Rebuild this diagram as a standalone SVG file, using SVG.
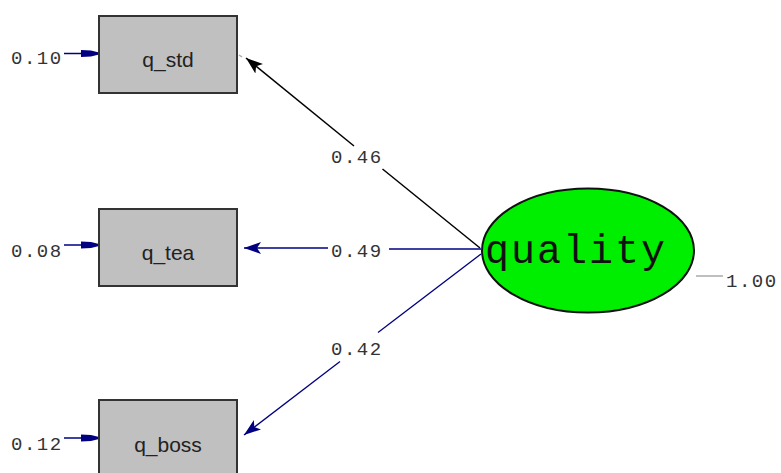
<svg xmlns="http://www.w3.org/2000/svg" width="781" height="473" viewBox="0 0 781 473">
<style>
.box{fill:#c0c0c0;stroke:#333;stroke-width:2}
.bt{font-family:"Liberation Sans",Arial,sans-serif;font-size:21px;fill:#222;text-anchor:middle}
.num{font-family:"Liberation Mono","Courier New",monospace;font-size:19px;fill:#333;letter-spacing:1.5px}
.nv{stroke:#000080;stroke-width:1.3;fill:none}
.bk{stroke:#000;stroke-width:1.5;fill:none}
</style>
<defs>
<marker id="ahB" markerUnits="userSpaceOnUse" markerWidth="20" markerHeight="14" refX="17" refY="7" orient="auto">
<path d="M0,1 L17,7 L0,13 L4,7 Z" fill="#000"/>
</marker>
<marker id="ahN" markerUnits="userSpaceOnUse" markerWidth="20" markerHeight="14" refX="17" refY="7" orient="auto">
<path d="M0,1 L17,7 L0,13 L4,7 Z" fill="#000080"/>
</marker>
<marker id="blk" markerUnits="userSpaceOnUse" markerWidth="20" markerHeight="10" refX="18" refY="5" orient="auto">
<path d="M0,1.5 L10,2 L18,4 L18,6 L10,8 L0,8.5 Z" fill="#000080"/>
</marker>
</defs>
<g id="connectors">
<line x1="64" y1="53.5" x2="99" y2="53.5" class="nv" marker-end="url(#blk)"/>
<line x1="64" y1="245" x2="99" y2="245" class="nv" marker-end="url(#blk)"/>
<line x1="64" y1="438" x2="99" y2="438" class="nv" marker-end="url(#blk)"/>
<line x1="239" y1="55" x2="242" y2="57" stroke="#aaa" stroke-width="1.5"/>
<line x1="354" y1="146" x2="246" y2="58" class="bk" marker-end="url(#ahB)"/>
<line x1="480" y1="248" x2="382.5" y2="169" class="bk"/>
<line x1="328" y1="248" x2="244" y2="248" class="nv" marker-end="url(#ahN)"/>
<line x1="481" y1="249" x2="389" y2="249" class="nv" stroke-width="1.6"/>
<line x1="481" y1="254" x2="378" y2="332.5" class="nv"/>
<line x1="340" y1="361.5" x2="244" y2="435" class="nv" marker-end="url(#ahN)"/>
<line x1="696" y1="276" x2="723" y2="276" stroke="#aaa" stroke-width="1.5"/>
</g>
<g id="q_std">
<rect x="99" y="16" width="138" height="77" class="box"/>
<text x="168" y="67" class="bt">q_std</text>
</g>
<g id="q_tea">
<rect x="99" y="209" width="138" height="77" class="box"/>
<text x="168" y="260" class="bt">q_tea</text>
</g>
<g id="q_boss">
<rect x="99" y="400" width="138" height="80" class="box"/>
<text x="168" y="452" class="bt">q_boss</text>
</g>
<g id="quality">
<ellipse cx="588" cy="250.5" rx="106" ry="62" fill="#00ee00" stroke="#111" stroke-width="2"/>
<text x="485" y="263" font-family="'Liberation Mono','Courier New',monospace" font-size="40" fill="#111" textLength="180" lengthAdjust="spacing">quality</text>
</g>
<g id="labels">
<text x="11" y="64" class="num">0.10</text>
<text x="11" y="257" class="num">0.08</text>
<text x="11" y="450" class="num">0.12</text>
<text x="331" y="163" class="num">0.46</text>
<text x="331" y="257" class="num">0.49</text>
<text x="331" y="355" class="num">0.42</text>
<text x="726" y="287" class="num">1.00</text>
</g>
</svg>
